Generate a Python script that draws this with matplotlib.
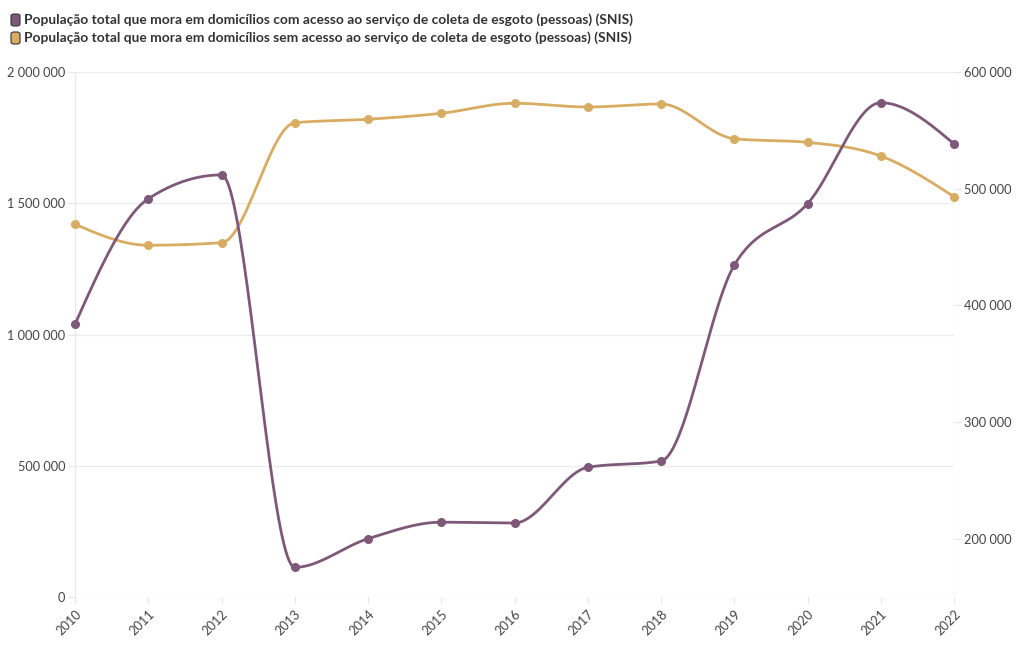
import numpy as np
import matplotlib
matplotlib.use("Agg")
import matplotlib.pyplot as plt
from matplotlib.patches import FancyBboxPatch
from matplotlib.ticker import FuncFormatter

years = [2010, 2011, 2012, 2013, 2014, 2015, 2016, 2017, 2018, 2019, 2020, 2021, 2022]
com_acesso = [1039000, 1517000, 1608000, 113000, 222000, 285000, 282000,
              494000, 518000, 1264000, 1498000, 1883000, 1726000]
sem_acesso = [469500, 451500, 453700, 556500, 559500, 564600, 573200,
              570000, 572600, 542800, 539700, 528000, 493100]
left_ticks = [0, 500000, 1000000, 1500000, 2000000]
right_ticks = [200000, 300000, 400000, 500000, 600000]
labels = ["População total que mora em domicílios com acesso ao serviço de coleta de esgoto (pessoas) (SNIS)",
          "População total que mora em domicílios sem acesso ao serviço de coleta de esgoto (pessoas) (SNIS)"]
colors = ["#7e5878", "#d8ac62"]

FONT = "Lato"
plt.rcParams['font.family'] = [FONT, 'DejaVu Sans']


def monotone(x, y, n=40):
    """Smooth monotone cubic curve through the data points (d3 curveMonotoneX style)."""
    x = np.asarray(x, float); y = np.asarray(y, float)
    h = np.diff(x); d = np.diff(y) / h
    m = np.zeros_like(y)
    for i in range(1, len(y) - 1):
        if d[i - 1] * d[i] <= 0:
            m[i] = 0
        else:
            p = (d[i - 1] * h[i] + d[i] * h[i - 1]) / (h[i - 1] + h[i])
            m[i] = (np.sign(d[i - 1]) + np.sign(d[i])) * min(abs(d[i - 1]), abs(d[i]), 0.5 * abs(p))
    m[0] = (3 * d[0] - m[1]) / 2
    m[-1] = (3 * d[-1] - m[-2]) / 2
    xs, ys = [], []
    for i in range(len(x) - 1):
        t = np.linspace(0, 1, n, endpoint=(i == len(x) - 2))
        h00 = 2 * t**3 - 3 * t**2 + 1
        h10 = t**3 - 2 * t**2 + t
        h01 = -2 * t**3 + 3 * t**2
        h11 = t**3 - t**2
        xs.append(x[i] + t * h[i])
        ys.append(h00 * y[i] + h10 * h[i] * m[i] + h01 * y[i + 1] + h11 * h[i] * m[i + 1])
    return np.concatenate(xs), np.concatenate(ys)


fig = plt.figure(figsize=(10.2, 6.5), dpi=100)
ax = fig.add_axes([75 / 1020, 53 / 650, (954 - 75) / 1020, (597 - 72) / 650])
ax2 = ax.twinx()
ax2.set_zorder(ax.get_zorder() + 1)
ax2.patch.set_visible(False)

fmt = FuncFormatter(lambda v, p: f"{int(v):,}".replace(",", " "))

for a in (ax, ax2):
    for s in a.spines.values():
        s.set_visible(False)

ax.grid(axis='y', color='#ececec', lw=0.9)
ax.axvline(2010, color='#e6e6e6', lw=0.9, zorder=0)
ax.axvline(2022, color='#e6e6e6', lw=0.9, zorder=0)

# series "sem acesso" on right axis
xs, ys = monotone(years, sem_acesso)
ax2.plot(xs, ys, color=colors[1], lw=2.0, solid_capstyle='round', clip_on=False)
ax2.plot(years, sem_acesso, 'o', color=colors[1], ms=5.5, clip_on=False)

# series "com acesso" on left axis (drawn on top)
xs, ys = monotone(years, com_acesso)
ax2.plot(xs, ys, color=colors[0], lw=2.0, solid_capstyle='round', clip_on=False,
         transform=ax.transData)
ax2.plot(years, com_acesso, 'o', color=colors[0], ms=5.5, clip_on=False,
         transform=ax.transData)

ax.set_xlim(2010, 2022)
ax.set_ylim(0, 2000000)
ax2.set_xlim(2010, 2022)
ax2.set_ylim(150000, 600000)

ax.set_yticks(left_ticks)
ax.yaxis.set_major_formatter(fmt)
ax2.set_yticks(right_ticks)
ax2.yaxis.set_major_formatter(fmt)

ax.tick_params(axis='y', length=5, color='#e6e6e6', labelsize=9.2, labelcolor='#444444', pad=2)
ax2.tick_params(axis='y', length=5, color='#e6e6e6', labelsize=9.2, labelcolor='#444444', pad=2)
ax.set_xticks(years)
ax.set_xticklabels([str(y) for y in years], rotation=45, ha='right', rotation_mode='anchor')
ax.tick_params(axis='x', length=4, color='#e6e6e6', labelsize=9.2, labelcolor='#444444', pad=4)

# legend
for i, (lab, c) in enumerate(zip(labels, colors)):
    yc = 1 - (20 + 18 * i) / 650
    box = FancyBboxPatch((11 / 1020, yc - 6 / 650), 9 / 1020, 12 / 650,
                         boxstyle="round,pad=0,rounding_size=0.003",
                         transform=fig.transFigure, facecolor=c, edgecolor='#333333', lw=0.8)
    fig.patches.append(box)
    fig.text(24 / 1020, yc, lab, fontsize=9.9, fontweight='bold', color='#333333',
             va='center', ha='left')

fig.savefig("out.png", dpi=100)
